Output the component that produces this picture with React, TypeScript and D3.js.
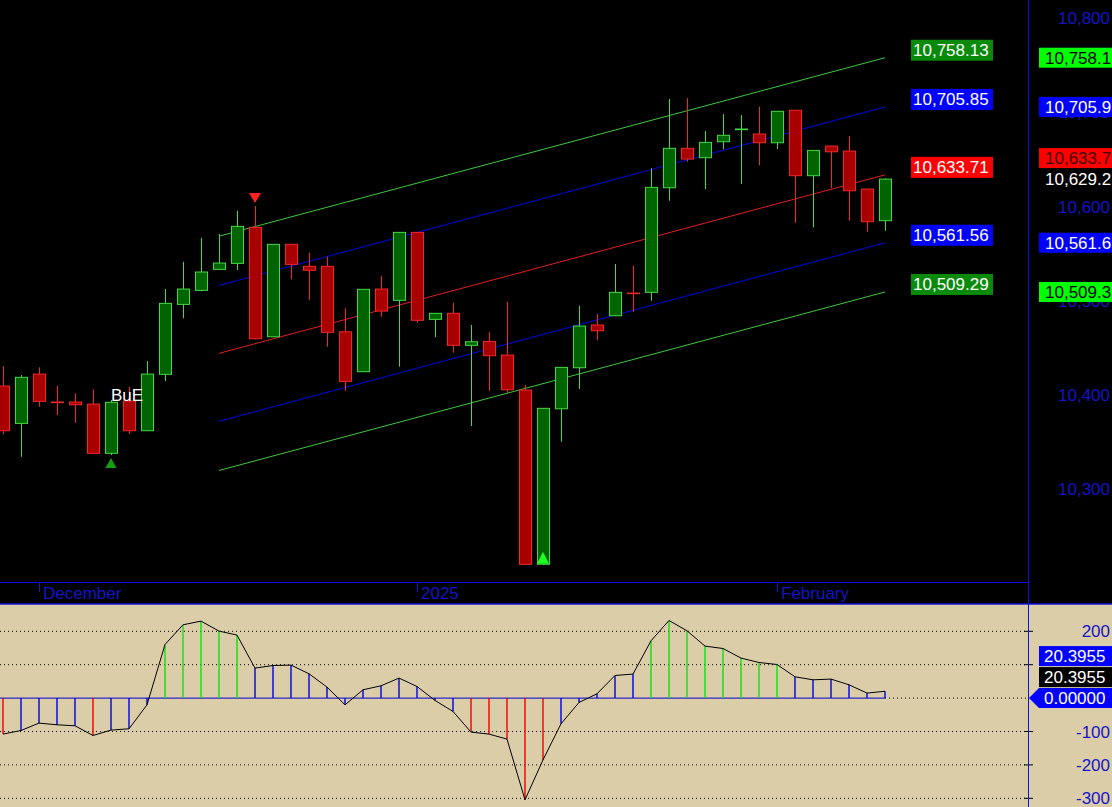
import React from 'react';
import * as d3 from 'd3';

const dates = [
  '2024-11-27', '2024-11-29',
  '2024-12-02', '2024-12-03', '2024-12-04', '2024-12-05', '2024-12-06',
  '2024-12-09', '2024-12-10', '2024-12-11', '2024-12-12', '2024-12-13',
  '2024-12-16', '2024-12-17', '2024-12-18', '2024-12-19', '2024-12-20',
  '2024-12-23', '2024-12-24', '2024-12-26', '2024-12-27', '2024-12-30', '2024-12-31',
  '2025-01-02', '2025-01-03', '2025-01-06', '2025-01-07', '2025-01-08', '2025-01-10',
  '2025-01-13', '2025-01-14', '2025-01-15', '2025-01-16', '2025-01-17',
  '2025-01-21', '2025-01-22', '2025-01-23', '2025-01-24',
  '2025-01-27', '2025-01-28', '2025-01-29', '2025-01-30', '2025-01-31',
  '2025-02-03', '2025-02-04', '2025-02-05', '2025-02-06', '2025-02-07',
  '2025-02-10', '2025-02-11',
];

const opens = [
  10409.4, 10369.7, 10422.1, 10392.4, 10392.4, 10390.2, 10337.9, 10393.4, 10361.9, 10421.8,
  10496.1, 10511.0, 10533.3, 10539.7, 10577.9, 10461.7, 10559.9, 10536.5, 10536.5, 10467.0,
  10424.6, 10512.4, 10500.4, 10572.6, 10480.2, 10486.6, 10452.6, 10456.8, 10442.3, 10405.1,
  10220.0, 10385.2, 10428.8, 10474.2, 10484.0, 10508.1, 10508.9, 10620.0, 10661.9, 10651.9,
  10668.9, 10681.7, 10677.1, 10667.8, 10702.3, 10632.8, 10664.3, 10659.0, 10618.6, 10585.0,
];
const highs = [
  10430.6, 10421.0, 10429.2, 10409.7, 10401.6, 10405.8, 10394.5, 10408.6, 10435.9, 10512.4,
  10541.4, 10566.9, 10570.8, 10595.6, 10600.6, 10560.2, 10560.2, 10551.0, 10546.7, 10491.9,
  10512.4, 10526.2, 10573.0, 10573.0, 10486.9, 10497.9, 10474.2, 10466.7, 10498.9, 10410.4,
  10386.0, 10429.5, 10494.7, 10485.8, 10539.0, 10537.2, 10640.6, 10714.3, 10715.3, 10680.2,
  10698.3, 10697.2, 10706.1, 10701.5, 10702.6, 10660.0, 10664.5, 10675.0, 10618.8, 10630.0,
];
const lows = [
  10358.0, 10334.2, 10387.4, 10378.5, 10370.4, 10337.0, 10336.1, 10358.4, 10361.5, 10414.7,
  10481.3, 10510.0, 10532.6, 10532.6, 10459.0, 10461.4, 10522.7, 10500.7, 10451.1, 10404.4,
  10424.2, 10483.0, 10429.9, 10476.6, 10461.1, 10444.7, 10366.9, 10404.4, 10401.6, 10219.5,
  10219.5, 10350.2, 10406.2, 10458.2, 10483.7, 10488.3, 10500.0, 10606.2, 10647.6, 10618.6,
  10660.8, 10623.9, 10643.8, 10661.1, 10582.8, 10577.9, 10619.4, 10585.0, 10573.3, 10574.3,
];
const closes = [
  10361.9, 10418.6, 10393.1, 10391.7, 10389.5, 10337.9, 10392.1, 10361.9, 10422.1, 10497.2,
  10512.4, 10530.5, 10540.0, 10579.0, 10459.6, 10559.9, 10538.6, 10532.3, 10466.4, 10414.3,
  10512.1, 10489.0, 10572.6, 10479.2, 10486.6, 10452.6, 10456.4, 10441.6, 10405.4, 10220.0,
  10385.7, 10429.2, 10473.1, 10468.1, 10508.9, 10507.5, 10620.4, 10661.9, 10650.5, 10668.2,
  10675.7, 10682.4, 10667.8, 10701.2, 10632.8, 10659.7, 10658.2, 10616.8, 10583.9, 10629.2,
];

const oscillator = [
  -107.8, -97, -74.9, -79.9, -82.9, -111.9, -95.8, -91.9, -20.1, 160.5,
  219.5, 230.5, 200.6, 188.6, 89.8, 97.6, 98.8, 72.8, 32.9, -20.1,
  24.9, 36.8, 59.9, 34.7, -7, -40, -101.8, -107.8, -122.8, -304.5,
  -185, -76.9, -13, 12.9, 67.7, 71.9, 171.6, 232.3, 201.5, 155.7,
  148.5, 119.8, 106.6, 100.6, 63.8, 54.8, 56.9, 39.8, 15, 20.3955,
];

const priceTicks = [10300, 10400, 10500, 10600, 10700, 10800];
const oscTicks = [-300, -200, -100, 0, 100, 200];
const oscUpper = 100;
const oscLower = -100;

// linear regression channel
const channelStartIndex = 12;
const channelMidStart = 10444.1;
const channelMidEnd = 10633.71;
const channelOffsets = [124.42, 72.14, 0, -72.15, -124.42];
const channelKinds = ['outer', 'inner', 'mid', 'inner', 'outer'];

const buySignals = [6];
const sellSignals = [14];
const strongBuySignals = [30];
const textMarkers = [{ index: 6, text: 'BuE' }];

const FONT = '"Liberation Sans", Arial, sans-serif';
const AXIS_BLUE = '#1414C8';

function placeLabels(ys: number[], h = 21): number[] {
  const placed: number[] = [];
  return ys.map((y0) => {
    let yy = y0;
    let moved = true;
    let guard = 0;
    while (moved && guard < 20) {
      moved = false;
      guard++;
      for (const p of placed) {
        if (Math.abs(p - yy) < h - 0.5) {
          yy = p - h;
          moved = true;
        }
      }
    }
    placed.push(yy);
    return yy;
  });
}

export default function App() {
  const W = 1112;
  const H = 807;
  const plotRight = 1028;
  const axisLineY = 582.5;
  const panelTop = 604;
  const n = closes.length;

  const x = d3.scaleLinear().domain([0, n - 1]).range([3, 885]);
  const y = d3.scaleLinear().domain([10300, 10800]).range([489, 18.3]);
  const yo = d3.scaleLinear().domain([-300, 200]).range([798.3, 631.3]);

  const fmt2 = d3.format(',.2f');
  const fmt1 = (v: number) => d3.format(',.1f')(Math.round(v * 10 + 1e-6) / 10);
  const fmt0 = d3.format(',');

  const parse = d3.timeParse('%Y-%m-%d');
  const parsed = dates.map((d) => parse(d) as Date);
  const monthTicks: { i: number; label: string }[] = [];
  for (let i = 1; i < n; i++) {
    if (parsed[i].getMonth() !== parsed[i - 1].getMonth()) {
      const label = parsed[i].getMonth() === 0 ? d3.timeFormat('%Y')(parsed[i]) : d3.timeFormat('%B')(parsed[i]);
      monthTicks.push({ i, label });
    }
  }

  const lastIdx = n - 1;
  const channelColor = (k: string) => (k === 'outer' ? '#3CC83C' : k === 'inner' ? '#0000E6' : '#E02020');
  const channelBoxFill = (k: string) => (k === 'outer' ? '#0A8A0A' : k === 'inner' ? '#0000FF' : '#FF0000');
  const rightBoxFill = (k: string) => (k === 'outer' ? '#00FF00' : k === 'inner' ? '#0000FF' : '#FF0000');
  const rightBoxText = (k: string) => (k === 'outer' ? '#000000' : k === 'inner' ? '#FFFFFF' : '#400000');

  const channelEnds = channelOffsets.map((o) => channelMidEnd + o);
  const channelStarts = channelOffsets.map((o) => channelMidStart + o);

  const lastClose = closes[lastIdx];
  const priceLabelOrder = [lastClose, channelEnds[2], channelEnds[0], channelEnds[1], channelEnds[3], channelEnds[4]];
  const placedPrice = placeLabels(priceLabelOrder.map((v) => y(v)));
  const priceLabelKinds = ['close', 'mid', 'outer', 'inner', 'inner', 'outer'];

  const lastOsc = oscillator[lastIdx];
  const oscLabelVals = [0, lastOsc, lastOsc];
  const placedOsc = placeLabels(oscLabelVals.map((v) => yo(v)));
  const visibleOscTicks = oscTicks.filter((t) => placedOsc.every((p) => Math.abs(p - yo(t)) > 12));

  const stemColor = (v: number) => (v > oscUpper ? '#10E010' : v < oscLower ? '#F00000' : '#0000E0');

  const oscLine = d3
    .line<number>()
    .x((_, i) => x(i))
    .y((v) => yo(v));

  const px = (i: number) => Math.round(x(i)) + 0.5;

  return (
    <svg
      width={W}
      height={H}
      viewBox={`0 0 ${W} ${H}`}
      style={{ position: 'absolute', left: 0, top: 0, display: 'block' }}
      fontFamily={FONT}
    >
      <rect x={0} y={0} width={W} height={H} fill="#000" />
      <rect x={0} y={panelTop} width={W} height={H - panelTop} fill="#DBCDA8" />

      {priceTicks.map((t) => (
        <text key={t} x={1110} y={y(t) + 6} textAnchor="end" fontSize={17} fill={AXIS_BLUE}>
          {fmt0(t)}
        </text>
      ))}

      {channelOffsets.map((o, k) => (
        <line
          key={k}
          x1={x(channelStartIndex)}
          y1={y(channelStarts[k])}
          x2={x(lastIdx)}
          y2={y(channelEnds[k])}
          stroke={channelColor(channelKinds[k])}
          strokeWidth={1}
        />
      ))}

      {closes.map((c, i) => {
        const o = opens[i];
        const up = c >= o;
        const stroke = up ? '#44D844' : '#F02828';
        const fill = up ? '#006400' : '#A80000';
        const top = y(Math.max(o, c));
        const bot = y(Math.min(o, c));
        const cx = px(i);
        return (
          <g key={i}>
            <line x1={cx} x2={cx} y1={y(highs[i])} y2={y(lows[i])} stroke={stroke} strokeWidth={1} />
            <rect x={cx - 6} y={top} width={12} height={Math.max(bot - top, 0.5)} fill={fill} stroke={stroke} strokeWidth={1} />
          </g>
        );
      })}

      {buySignals.map((i) => {
        const cx = x(i);
        const ty = y(lows[i]) + 3;
        return <path key={'b' + i} d={`M${cx},${ty} L${cx + 5.5},${ty + 10} L${cx - 5.5},${ty + 10} Z`} fill="#12A012" />;
      })}
      {sellSignals.map((i) => {
        const cx = x(i);
        const ty = y(highs[i]) - 3;
        return <path key={'s' + i} d={`M${cx},${ty} L${cx + 6},${ty - 10} L${cx - 6},${ty - 10} Z`} fill="#FF2020" />;
      })}
      {strongBuySignals.map((i) => {
        const cx = x(i);
        const ty = y(lows[i]) - 1;
        return <path key={'g' + i} d={`M${cx},${ty - 12} L${cx + 6},${ty} L${cx - 6},${ty} Z`} fill="#22FF22" />;
      })}
      {textMarkers.map((m) => (
        <text key={m.text} x={x(m.index)} y={y(highs[m.index]) + 1} fontSize={17} fill="#FFFFFF">
          {m.text}
        </text>
      ))}

      {channelEnds.map((v, k) => {
        const yy = y(v);
        return (
          <g key={'cl' + k}>
            <rect x={x(lastIdx) + 26} y={yy - 18} width={82} height={21} fill={channelBoxFill(channelKinds[k])} />
            <text x={x(lastIdx) + 28} y={yy - 2} fontSize={17} fill="#FFFFFF">
              {fmt2(v)}
            </text>
          </g>
        );
      })}

      {priceLabelOrder.map((v, j) => {
        const yy = placedPrice[j];
        const kind = priceLabelKinds[j];
        if (kind === 'close') {
          return (
            <text key={'pl' + j} x={1045} y={yy + 6} fontSize={17} fill="#FFFFFF">
              {fmt1(v)}
            </text>
          );
        }
        return (
          <g key={'pl' + j}>
            <rect x={1039} y={yy - 10} width={80} height={20} fill={rightBoxFill(kind)} />
            <text x={1045} y={yy + 6} fontSize={17} fill={rightBoxText(kind)}>
              {fmt1(v)}
            </text>
          </g>
        );
      })}

      <line x1={0} x2={plotRight} y1={axisLineY} y2={axisLineY} stroke="#1010D8" strokeWidth={1} />
      {monthTicks.map((t) => (
        <g key={t.label}>
          <line x1={px(t.i)} x2={px(t.i)} y1={583} y2={592} stroke="#1414C8" strokeWidth={1} />
          <text x={x(t.i) + 4} y={599} fontSize={17} fill={AXIS_BLUE}>
            {t.label}
          </text>
        </g>
      ))}

      {oscTicks
        .filter((t) => t !== 0)
        .map((t) => (
          <g key={'og' + t}>
            <line x1={0} x2={plotRight} y1={yo(t)} y2={yo(t)} stroke="#000" strokeWidth={1} strokeDasharray="1 3" />
            <line x1={1024} x2={1033} y1={yo(t)} y2={yo(t)} stroke="#000" strokeWidth={1} />
          </g>
        ))}
      <line x1={x(lastIdx)} x2={plotRight} y1={yo(0)} y2={yo(0)} stroke="#000" strokeWidth={1} strokeDasharray="1 3" />
      <line x1={0} x2={x(lastIdx)} y1={yo(0)} y2={yo(0)} stroke="#0000D0" strokeWidth={1} />

      {oscillator.map((v, i) => (
        <line key={'st' + i} x1={x(i)} x2={x(i)} y1={yo(0)} y2={yo(v)} stroke={stemColor(v)} strokeWidth={1.4} />
      ))}
      <path d={oscLine(oscillator) || ''} fill="none" stroke="#000" strokeWidth={1} />

      {visibleOscTicks.map((t) => (
        <text key={'ot' + t} x={1110} y={yo(t) + 6} textAnchor="end" fontSize={17} fill={AXIS_BLUE}>
          {t}
        </text>
      ))}

      {oscLabelVals.map((v, j) => {
        const yy = placedOsc[j];
        if (j === 0) {
          return (
            <g key={'ol' + j}>
              <path d={`M1029,${yy} L1039,${yy - 10} L1119,${yy - 10} L1119,${yy + 10} L1039,${yy + 10} Z`} fill="#0000FF" />
              <text x={1044} y={yy + 6} fontSize={17} fill="#FFFFFF">
                {d3.format('.5f')(v)}
              </text>
            </g>
          );
        }
        return (
          <g key={'ol' + j}>
            <rect x={1039} y={yy - 10} width={80} height={20} fill={j === 1 ? '#000000' : '#0000FF'} />
            <text x={1044} y={yy + 6} fontSize={17} fill="#FFFFFF">
              {d3.format('.4f')(v)}
            </text>
          </g>
        );
      })}

      <line x1={0} x2={W} y1={panelTop} y2={panelTop} stroke="#1010E0" strokeWidth={1.5} />
      <line x1={plotRight + 0.5} x2={plotRight + 0.5} y1={0} y2={H} stroke="#1010E0" strokeWidth={1} />
    </svg>
  );
}
